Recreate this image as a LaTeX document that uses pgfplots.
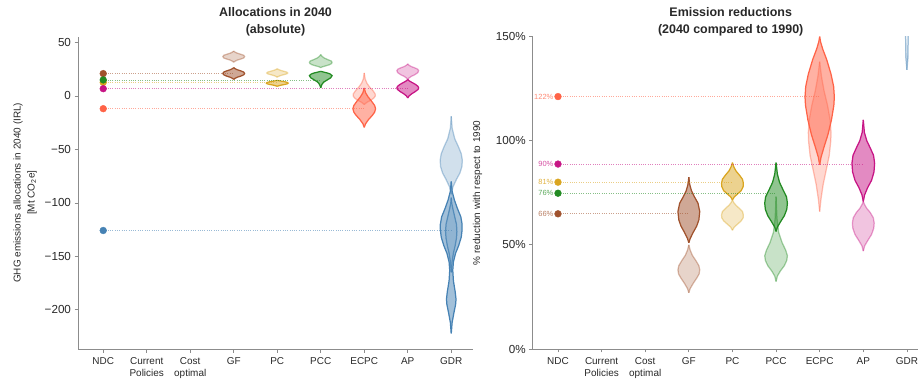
\documentclass[border=0pt]{standalone}
\usepackage{pgfplots}
\pgfplotsset{compat=1.18}
\usepackage{pgfplotstable}
\usepgfplotslibrary{fillbetween}
\usepackage{fontspec}
\setmainfont{Liberation Sans}

\definecolor{cGF}{RGB}{160,82,45}
\definecolor{cPC}{RGB}{218,165,32}
\definecolor{cPCC}{RGB}{34,139,34}
\definecolor{cECPC}{RGB}{255,99,71}
\definecolor{cAP}{RGB}{199,21,133}
\definecolor{cGDR}{RGB}{70,130,180}
\definecolor{spine}{RGB}{140,140,140}
\definecolor{txt}{RGB}{40,40,40}

% ---------- left panel (Mt CO2e) ----------
\pgfplotstableread{
y w
31.5 0
32.5 0.03
33.5 0.08
34.5 0.16
35.5 0.23
36.8 0.25
38 0.23
39 0.16
40 0.08
41 0.03
42 0
}\LGFa
\pgfplotstableread{
y w
15.5 0
16.5 0.03
17.5 0.08
18.5 0.16
19.8 0.23
21 0.25
22.3 0.23
23.5 0.16
24.5 0.08
25.5 0.03
26.5 0
}\LGFb
\pgfplotstableread{
y w
17.5 0
18.3 0.03
19.1 0.08
19.9 0.15
20.7 0.22
21.5 0.24
22.3 0.22
23.1 0.15
23.9 0.08
24.7 0.03
25.5 0
}\LPCa
\pgfplotstableread{
y w
9 0
9.6 0.04
10.2 0.1
10.8 0.18
11.4 0.235
12 0.25
12.6 0.235
13.2 0.18
13.8 0.1
14.2 0.04
14.6 0
}\LPCb
\pgfplotstableread{
y w
26.5 0
27.3 0.04
28.2 0.12
29.2 0.2
30.3 0.25
31.5 0.26
32.7 0.24
34 0.16
35.5 0.08
37 0.03
38.7 0
}\LPCCa
\pgfplotstableread{
y w
7.5 0
9 0.01
11 0.03
13 0.07
15 0.15
17 0.23
19 0.26
20.5 0.22
21.5 0.15
22.3 0.07
23 0
}\LPCCb
\pgfplotstableread{
y w
-8 0
-6 0.06
-4 0.15
-2 0.22
0 0.255
2 0.25
5 0.2
8 0.13
12 0.06
16 0.02
21.5 0
}\LECPCa
\pgfplotstableread{
y w
-29.4 0
-26 0.03
-22 0.1
-18 0.19
-15 0.24
-12 0.26
-9 0.24
-5 0.17
-1 0.09
3 0.03
7.5 0
}\LECPCb
\pgfplotstableread{
y w
15.3 0
16.8 0.03
18.3 0.08
19.8 0.16
21.8 0.23
23.5 0.25
25 0.23
26.3 0.16
27.5 0.08
28.7 0.03
30 0
}\LAPa
\pgfplotstableread{
y w
-1.9 0
0 0.03
2 0.09
4 0.17
6 0.235
7.5 0.25
9 0.235
11 0.17
13 0.08
14.2 0.03
15.3 0
}\LAPb
\pgfplotstableread{
y w
-92 0
-85 0.04
-78 0.12
-72 0.2
-66 0.245
-60 0.255
-54 0.23
-47 0.16
-40 0.08
-30 0.02
-19 0
}\LGDRa
\pgfplotstableread{
y w
-222 0
-212 0.02
-203 0.06
-195 0.1
-190 0.11
-183 0.09
-173 0.05
-163 0.035
-155 0.05
-147 0.1
-140 0.17
-132 0.23
-125 0.25
-120 0.25
-113 0.22
-105 0.14
-97 0.07
-89 0.02
-80 0
}\LGDRb
\pgfplotstableread{
y w
-165 0
-155 0.02
-147 0.05
-140 0.09
-133 0.12
-127 0.13
-120 0.12
-113 0.08
-106 0.04
-100 0.01
-95 0
}\LGDRc

% ---------- right panel (% reduction) ----------
\pgfplotstableread{
y w
51 0
53 0.03
56 0.1
59 0.18
62 0.23
66 0.25
70 0.21
73 0.13
76 0.06
79 0.02
82.5 0
}\RGFb
\pgfplotstableread{
y w
27 0
29 0.03
31.5 0.1
34 0.18
36 0.235
38 0.25
40 0.23
42.5 0.16
45 0.08
47.5 0.03
50 0
}\RGFa
\pgfplotstableread{
y w
71.6 0
73 0.04
74.5 0.12
76 0.2
78 0.245
79.6 0.25
81.5 0.23
83.5 0.16
85.5 0.08
87.5 0.03
89.5 0
}\RPCb
\pgfplotstableread{
y w
57 0
58.5 0.04
60 0.12
61.5 0.2
63 0.245
64.4 0.25
66 0.23
67.5 0.16
69 0.08
70.3 0.03
71.6 0
}\RPCa
\pgfplotstableread{
y w
56.4 0
58.5 0.03
61 0.1
64 0.19
67 0.245
70 0.26
73 0.24
76 0.17
80 0.08
84 0.03
89.5 0
}\RPCCb
\pgfplotstableread{
y w
32.4 0
35 0.03
37.5 0.1
40 0.19
42.5 0.245
44.8 0.26
47.5 0.22
51 0.14
56 0.06
63 0.02
73.2 0
}\RPCCa
\pgfplotstableread{
y w
88.4 0
92 0.03
97 0.1
103 0.19
110 0.27
117 0.325
121 0.336
126 0.32
132 0.26
139 0.16
144 0.07
147.5 0.02
150 0
}\RECPCb
\pgfplotstableread{
y w
66 0
72 0.03
79 0.08
86 0.15
93 0.22
100 0.255
104 0.26
110 0.24
117 0.18
124 0.1
131 0.04
138 0
}\RECPCa
\pgfplotstableread{
y w
70.8 0
74 0.03
77.5 0.1
81 0.19
85 0.245
89.2 0.26
93 0.235
96.5 0.16
100 0.08
104 0.025
110 0
}\RAPb
\pgfplotstableread{
y w
47 0
49.5 0.03
52 0.1
55 0.19
58 0.24
60.5 0.25
63 0.23
65.5 0.16
67.5 0.08
69.3 0.03
70.8 0
}\RAPa
\pgfplotstableread{
y w
134 0
140 0.025
150 0.03
160 0.03
}\RGDRa

% #1 name, #2 centre, #3 table, #4 colour, #5 fill opacity, #6 draw opacity
\newcommand{\violin}[6]{%
  \addplot[draw=#4, draw opacity=#6, line width=1.25bp, name path=#1R, forget plot]
    table[x expr=#2+\thisrow{w}, y=y] {#3};
  \addplot[draw=#4, draw opacity=#6, line width=1.25bp, name path=#1L, forget plot]
    table[x expr=#2-\thisrow{w}, y=y] {#3};
  \addplot[fill=#4, fill opacity=#5, draw=none, forget plot] fill between[of=#1R and #1L];
}
\newcommand{\lightv}[4]{\violin{#1}{#2}{#3}{#4}{0.25}{0.4}}
\newcommand{\darkv}[4]{\violin{#1}{#2}{#3}{#4}{0.5}{1}}

\pgfplotsset{
  common/.style={
    scale only axis, anchor=south west,
    width=395bp, height=312.4bp,
    xmin=-0.58, xmax=8.5,
    axis x line*=bottom, axis y line*=left,
    axis line style={draw=spine, line width=0.9bp},
    tick align=outside, major tick length=3.5bp,
    every tick/.style={draw=spine, line width=0.8bp},
    xtick={0,1,2,3,4,5,6,7,8},
    xticklabels={NDC,{Current\\Policies},{Cost\\optimal},GF,PC,PCC,ECPC,AP,GDR},
    xticklabel style={align=center, font=\fontsize{10}{12}\selectfont, text=txt, anchor=north, yshift=-2bp},
    yticklabel style={font=\fontsize{11.7}{13}\selectfont, text=txt},
    title style={align=center, font=\bfseries\fontsize{12.5}{16.8}\selectfont, text=txt, at={(0.5,1)}, anchor=south, yshift=-9bp},
    clip=true,
  },
  ndcline/.style={dash pattern=on 1bp off 1.3bp, line width=0.8bp, draw opacity=0.55, forget plot},
  ndcdot/.style={only marks, mark=*, mark size=3.4bp, forget plot},
}

\begin{document}
\begin{tikzpicture}
% ================= LEFT =================
\begin{axis}[common, at={(78bp,30bp)},
  ymin=-236.6, ymax=55.5,
  ytick={-200,-150,-100,-50,0,50},
  yticklabels={−200,−150,−100,−50,0,50},
  title={Allocations in 2040\\(absolute)},
  ylabel={GHG emissions allocations in 2040 (IRL)\\{[Mt CO\textsubscript{2}e]}},
  every axis y label/.style={at={(axis description cs:-0.134,0.5)}, rotate=90, anchor=center, align=center, font=\fontsize{10}{14}\selectfont, text=txt},
]
\lightv{lgfa}{3}{\LGFa}{cGF}
\darkv{lgfb}{3}{\LGFb}{cGF}
\lightv{lpca}{4}{\LPCa}{cPC}
\darkv{lpcb}{4}{\LPCb}{cPC}
\lightv{lpcca}{5}{\LPCCa}{cPCC}
\darkv{lpccb}{5}{\LPCCb}{cPCC}
\lightv{lecpca}{6}{\LECPCa}{cECPC}
\darkv{lecpcb}{6}{\LECPCb}{cECPC}
\lightv{lapa}{7}{\LAPa}{cAP}
\darkv{lapb}{7}{\LAPb}{cAP}
\lightv{lgdra}{8}{\LGDRa}{cGDR}
\darkv{lgdrb}{8}{\LGDRb}{cGDR}
\violin{lgdrc}{8}{\LGDRc}{cGDR}{0.2}{0.8}

\addplot[ndcline, draw=cGF] coordinates {(0,20.9) (3,20.9)};
\addplot[ndcline, draw=cPC] coordinates {(0,12.7) (4,12.7)};
\addplot[ndcline, draw=cPCC] coordinates {(0,15.0) (5,15.0)};
\addplot[ndcline, draw=cAP] coordinates {(0,6.8) (7,6.8)};
\addplot[ndcline, draw=cECPC] coordinates {(0,-11.9) (6,-11.9)};
\addplot[ndcline, draw=cGDR] coordinates {(0,-125.8) (8,-125.8)};

\addplot[ndcdot, color=cGF] coordinates {(0,20.9)};
\addplot[ndcdot, color=cPC] coordinates {(0,12.7)};
\addplot[ndcdot, color=cPCC] coordinates {(0,15.0)};
\addplot[ndcdot, color=cAP] coordinates {(0,6.8)};
\addplot[ndcdot, color=cECPC] coordinates {(0,-11.9)};
\addplot[ndcdot, color=cGDR] coordinates {(0,-125.8)};
\end{axis}

% ================= RIGHT =================
\begin{axis}[common, at={(532.7bp,30bp)}, width=396bp,
  ymin=0, ymax=150,
  ytick={0,50,100,150},
  yticklabels={0\%,50\%,100\%,150\%},
  title={Emission reductions\\(2040 compared to 1990)},
  ylabel={\% reduction with respect to 1990},
  every axis y label/.style={at={(axis description cs:-0.139,0.5)}, rotate=90, anchor=center, font=\fontsize{10}{12}\selectfont, text=txt},
  nodes near coords style={font=\fontsize{7.5}{9}\selectfont, anchor=east, inner sep=0pt, xshift=-4.5bp},
]
\lightv{rgfa}{3}{\RGFa}{cGF}
\darkv{rgfb}{3}{\RGFb}{cGF}
\lightv{rpca}{4}{\RPCa}{cPC}
\darkv{rpcb}{4}{\RPCb}{cPC}
\lightv{rpcca}{5}{\RPCCa}{cPCC}
\darkv{rpccb}{5}{\RPCCb}{cPCC}
\lightv{recpca}{6}{\RECPCa}{cECPC}
\darkv{recpcb}{6}{\RECPCb}{cECPC}
\lightv{rapa}{7}{\RAPa}{cAP}
\darkv{rapb}{7}{\RAPb}{cAP}
\violin{rgdra}{8}{\RGDRa}{cGDR}{0.4}{0.45}

\addplot[ndcline, draw=cECPC] coordinates {(0,121.2) (6,121.2)};
\addplot[ndcline, draw=cAP] coordinates {(0,88.8) (7,88.8)};
\addplot[ndcline, draw=cPC] coordinates {(0,80.1) (4,80.1)};
\addplot[ndcline, draw=cPCC] coordinates {(0,74.8) (5,74.8)};
\addplot[ndcline, draw=cGF] coordinates {(0,64.9) (3,64.9)};

\addplot[ndcdot, color=cECPC, nodes near coords, point meta=explicit symbolic,
  every node near coord/.append style={text=cECPC!75}] coordinates {(0,121.2) [122\%]};
\addplot[ndcdot, color=cAP, nodes near coords, point meta=explicit symbolic,
  every node near coord/.append style={text=cAP!75}] coordinates {(0,88.8) [90\%]};
\addplot[ndcdot, color=cPC, nodes near coords, point meta=explicit symbolic,
  every node near coord/.append style={text=cPC!85}] coordinates {(0,80.1) [81\%]};
\addplot[ndcdot, color=cPCC, nodes near coords, point meta=explicit symbolic,
  every node near coord/.append style={text=cPCC!75}] coordinates {(0,74.8) [76\%]};
\addplot[ndcdot, color=cGF, nodes near coords, point meta=explicit symbolic,
  every node near coord/.append style={text=cGF!75}] coordinates {(0,64.9) [66\%]};
\end{axis}

\pgfresetboundingbox
\path[use as bounding box] (0,0) rectangle (918bp,379bp);
\end{tikzpicture}
\end{document}
